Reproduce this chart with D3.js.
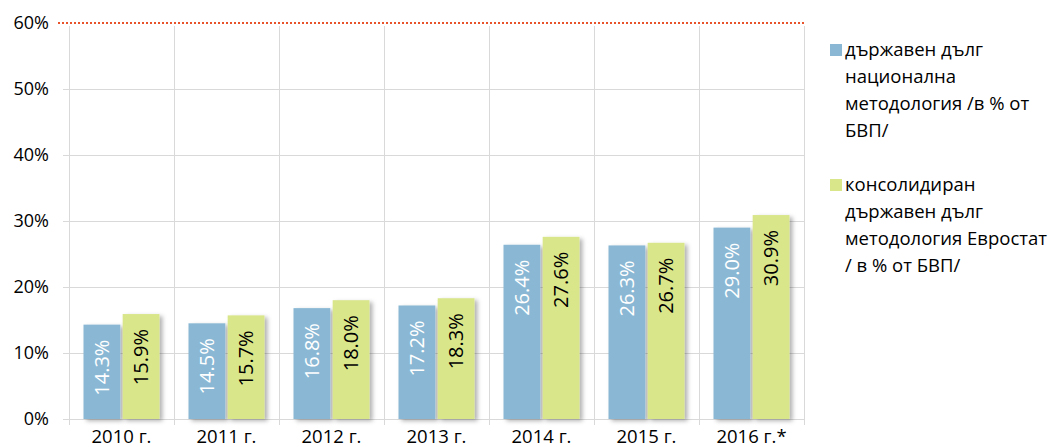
<!DOCTYPE html>
<html>
<head>
<meta charset="utf-8">
<script src="https://cdn.jsdelivr.net/npm/d3@7"></script>
<style>
  body { margin: 0; background: #fff; }
  svg { font-family: "Open Sans", sans-serif; }
</style>
</head>
<body>
<script>
// data
const years = ["2010 г.", "2011 г.", "2012 г.", "2013 г.", "2014 г.", "2015 г.", "2016 г.*"];
const national = [14.3, 14.5, 16.8, 17.2, 26.4, 26.3, 29.0];
const eurostat = [15.9, 15.7, 18.0, 18.3, 27.6, 26.7, 30.9];
const yTicks = [0, 10, 20, 30, 40, 50, 60];
const seriesNames = [
    ["държавен дълг", "национална", "методология /в % от", "БВП/"],
    ["консолидиран", "държавен дълг", "методология Евростат", "/ в % от БВП/"]
];
const colors = ["#8ab8d4", "#d9e68a"];
const labelColors = ["#ffffff", "#000000"];

const width = 1051;
const height = 447;
const margin = {top: 23, right: 247, bottom: 28, left: 69};

const svg = d3.select("body").append("svg")
    .attr("width", width)
    .attr("height", height);

const defs = svg.append("defs");
const f = defs.append("filter").attr("id", "shadow")
    .attr("x", "-20%").attr("y", "-20%").attr("width", "150%").attr("height", "150%");
f.append("feDropShadow")
    .attr("dx", 3).attr("dy", 2).attr("stdDeviation", 2)
    .attr("flood-color", "#000").attr("flood-opacity", 0.3);

const xscale = d3.scaleBand()
    .domain(years)
    .range([margin.left, width - margin.right]);

const yscale = d3.scaleLinear()
    .domain([0, 60])
    .range([height - margin.bottom, margin.top]);

const inner = d3.scaleBand()
    .domain([0, 1])
    .range([0, xscale.bandwidth()])
    .paddingInner(0.06)
    .paddingOuter(0.37);

// horizontal grid
svg.append("g")
    .selectAll("line")
    .data(yTicks.filter(d => d < 60))
    .enter()
    .append("line")
    .attr("x1", margin.left - 6)
    .attr("x2", width - margin.right)
    .attr("y1", d => yscale(d) + 0.5)
    .attr("y2", d => yscale(d) + 0.5)
    .attr("stroke", "#d9d9d9");

// vertical grid
const xb = years.map(d => xscale(d)).concat([width - margin.right]);
svg.append("g")
    .selectAll("line")
    .data(xb)
    .enter()
    .append("line")
    .attr("x1", d => Math.round(d) + 0.5)
    .attr("x2", d => Math.round(d) + 0.5)
    .attr("y1", yscale(60) + 3)
    .attr("y2", yscale(0) + 6)
    .attr("stroke", "#d9d9d9");

// y labels
svg.append("g")
    .selectAll("text")
    .data(yTicks)
    .enter()
    .append("text")
    .attr("x", 49)
    .attr("y", d => yscale(d))
    .attr("dy", "0.35em")
    .attr("text-anchor", "end")
    .attr("font-size", 18)
    .attr("fill", "#000")
    .text(d => d + "%");

// x labels
svg.append("g")
    .selectAll("text")
    .data(years)
    .enter()
    .append("text")
    .attr("x", d => xscale(d) + xscale.bandwidth() / 2)
    .attr("y", 437)
    .attr("dy", "0.35em")
    .attr("text-anchor", "middle")
    .attr("font-size", 18.5)
    .attr("fill", "#000")
    .text(d => d);

// bars
const series = [national, eurostat];
series.forEach((vals, si) => {
    const g = svg.append("g");
    g.selectAll("rect")
        .data(vals)
        .enter()
        .append("rect")
        .attr("x", (d, i) => xscale(years[i]) + inner(si))
        .attr("y", d => yscale(d))
        .attr("width", inner.bandwidth())
        .attr("height", d => yscale(0) - yscale(d))
        .attr("fill", colors[si])
        .attr("filter", "url(#shadow)");

    g.selectAll("text")
        .data(vals)
        .enter()
        .append("text")
        .attr("transform", (d, i) => {
            const cx = xscale(years[i]) + inner(si) + inner.bandwidth() / 2;
            return `translate(${cx},${yscale(d) + 15}) rotate(-90)`;
        })
        .attr("text-anchor", "end")
        .attr("dy", "0.35em")
        .attr("font-size", 20)
        .attr("fill", labelColors[si])
        .text(d => d.toFixed(1) + "%");
});

// 60% limit line
svg.append("line")
    .attr("x1", 58)
    .attr("x2", width - margin.right)
    .attr("y1", yscale(60))
    .attr("y2", yscale(60))
    .attr("stroke", "#e8532b")
    .attr("stroke-width", 2)
    .attr("stroke-dasharray", "2,2");

// legend
const legendTop = [44, 179];
seriesNames.forEach((lines, si) => {
    const lg = svg.append("g");
    lg.append("rect")
        .attr("x", 830)
        .attr("y", legendTop[si])
        .attr("width", 12)
        .attr("height", 12)
        .attr("fill", colors[si]);
    lg.selectAll("text")
        .data(lines)
        .enter()
        .append("text")
        .attr("x", 845)
        .attr("y", (d, i) => legendTop[si] + 6 + i * 27)
        .attr("dy", "0.35em")
        .attr("font-size", 18.5)
        .attr("fill", "#000")
        .text(d => d);
});
</script>
</body>
</html>
